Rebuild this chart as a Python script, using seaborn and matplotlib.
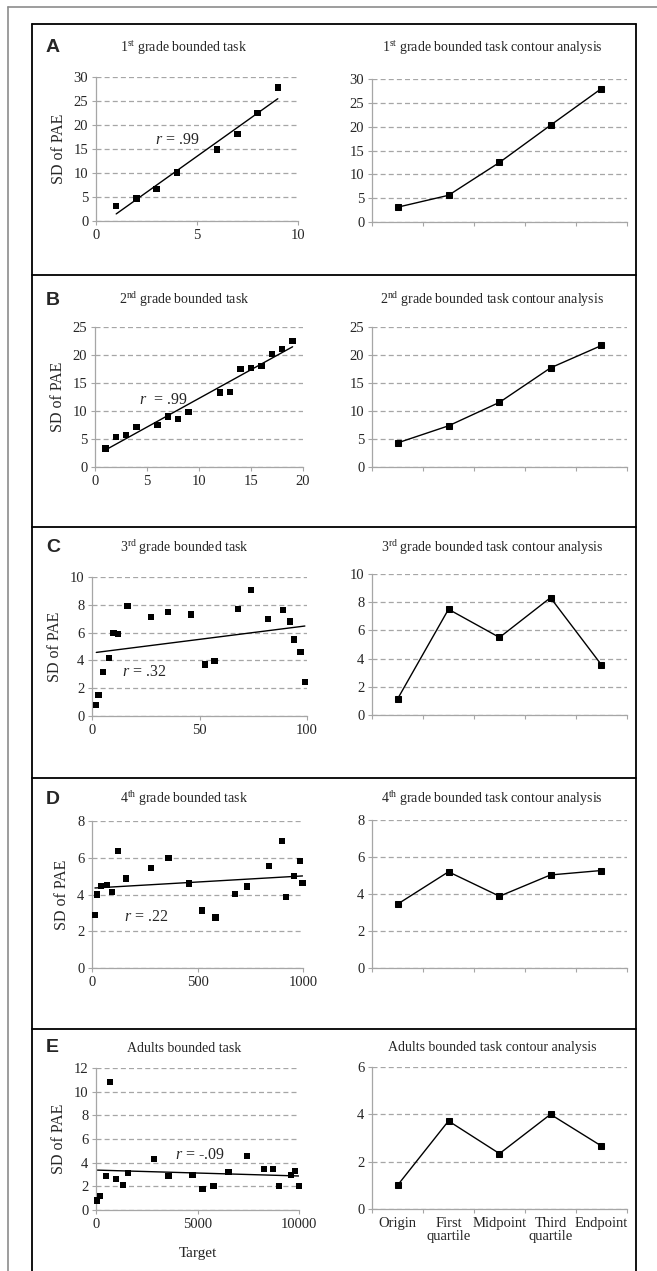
# Recreating the SD of PAE figure (bounded task + contour analysis panels)

import matplotlib
matplotlib.use("Agg")
import matplotlib.pyplot as plt
from matplotlib.lines import Line2D
import seaborn as sns
import numpy as np

# ---- data ----
grade1_target = [1, 2, 3, 4, 6, 7, 8, 9]
grade1_sd = [3.1, 4.7, 6.6, 10.1, 14.9, 18.1, 22.5, 27.8]
grade1_contour = [3.1, 5.6, 12.5, 20.3, 28.0]

grade2_target = [1, 2, 3, 4, 6, 7, 8, 9, 12, 13, 14, 15, 16, 17, 18, 19]
grade2_sd = [3.3, 5.3, 5.75, 7.2, 7.5, 9.0, 8.6, 9.8, 13.3, 13.45, 17.5, 17.7, 18.0, 20.2, 21.1, 22.45]
grade2_contour = [4.3, 7.35, 11.55, 17.7, 21.7]

grade3_target = [2, 3, 5, 8, 10, 12, 16.5, 27.5, 35.5, 46, 52.5, 57, 68, 74, 82, 89, 92, 94, 97, 99]
grade3_sd = [0.8, 1.5, 3.15, 4.2, 5.95, 5.9, 7.9, 7.15, 7.5, 7.3, 3.7, 3.95, 7.7, 9.05, 7.0, 7.6, 6.8, 5.5, 4.6, 2.45]
grade3_contour = [1.13, 7.5, 5.5, 8.32, 3.55]

grade4_target = [14, 25, 44, 70, 96, 125, 161, 278, 363, 460, 520, 585, 676, 736, 837, 899, 921, 957, 986, 998]
grade4_sd = [2.89, 4.0, 4.45, 4.5, 4.15, 6.35, 4.87, 5.44, 6.0, 4.6, 3.13, 2.75, 4.02, 4.44, 5.56, 6.93, 3.85, 5.02, 5.84, 4.62]
grade4_contour = [3.45, 5.2, 3.88, 5.03, 5.27]

adult_target = [66, 180, 508, 705, 967, 1328, 1590, 2852, 3574, 4754, 5246, 5787, 6525, 7426, 8295, 8721, 9016, 9623, 9787, 9984]
adult_sd = [0.8, 1.2, 2.9, 10.8, 2.63, 2.12, 3.16, 4.32, 2.88, 2.94, 1.78, 2.03, 3.22, 4.58, 3.47, 3.47, 2.0, 2.99, 3.28, 2.06]
adult_contour = [1.0, 3.72, 2.34, 4.0, 2.66]

contour_labels = ["Origin", "First\nquartile", "Midpoint", "Third\nquartile", "Endpoint"]

panel_letters = ["A", "B", "C", "D", "E"]
left_titles = ["1$^{\\mathrm{st}}$ grade bounded task", "2$^{\\mathrm{nd}}$ grade bounded task",
               "3$^{\\mathrm{rd}}$ grade bounded task", "4$^{\\mathrm{th}}$ grade bounded task",
               "Adults bounded task"]
right_titles = ["1$^{\\mathrm{st}}$ grade bounded task contour analysis",
                "2$^{\\mathrm{nd}}$ grade bounded task contour analysis",
                "3$^{\\mathrm{rd}}$ grade bounded task contour analysis",
                "4$^{\\mathrm{th}}$ grade bounded task contour analysis",
                "Adults bounded task contour analysis"]
r_labels = ["$r$ = .99", "$r$  = .99", "$r$ = .32", "$r$ = .22", "$r$ = -.09"]

sns.set_style("white")
plt.rcParams['font.family'] = ['Liberation Serif', 'DejaVu Sans']
plt.rcParams['mathtext.fontset'] = 'custom'
plt.rcParams['mathtext.rm'] = 'Liberation Serif'
plt.rcParams['mathtext.it'] = 'Liberation Serif:italic'

W, H = 657, 1271
GREY = "#a6a6a6"
TICK_FS = 10.5


def rect(left, top, right, bottom):
    """pixel box -> figure fraction box for add_axes"""
    return [left / W, 1 - bottom / H, (right - left) / W, (bottom - top) / H]


def style_axes(ax, ymax, ystep):
    """Excel-like look: grey left/bottom axis, dashed horizontal gridlines"""
    sns.despine(ax=ax)
    for side in ["left", "bottom"]:
        ax.spines[side].set_color(GREY)
        ax.spines[side].set_linewidth(0.9)
    ax.set_ylim(0, ymax)
    ax.set_yticks(np.arange(0, ymax + ystep / 2, ystep))
    ax.yaxis.grid(True, color=GREY, linestyle=(0, (4, 2.5)), linewidth=0.9)
    ax.set_axisbelow(True)
    ax.tick_params(axis="both", which="both", direction="out", length=3, width=0.8,
                   color=GREY, labelsize=TICK_FS, pad=2.5, left=True, bottom=True)


def plot_bounded(ax, target, sd, xmax, xstep, ymax, ystep, r_text, r_pos):
    """Scatter of SD of PAE against target with a linear fit"""
    sns.regplot(x=np.array(target, float), y=np.array(sd, float), ax=ax, scatter=False,
                ci=None, truncate=True, line_kws=dict(color="black", linewidth=1))
    sns.scatterplot(x=target, y=sd, ax=ax, marker="s", color="black", s=20,
                    edgecolor="none", zorder=3, clip_on=False)
    ax.set_xlim(0, xmax)
    ax.set_xticks(np.arange(0, xmax + xstep / 2, xstep))
    style_axes(ax, ymax, ystep)
    ax.set_ylabel("SD of PAE", fontsize=11.5, labelpad=5)
    ax.text(r_pos[0], r_pos[1], r_text, transform=ax.transAxes, fontsize=11.5,
            ha="left", va="center")


def plot_contour(ax, values, ymax, ystep, labels=None):
    """Contour analysis: five key points joined by a line"""
    pos = list(range(len(values)))
    sns.lineplot(x=pos, y=values, ax=ax, color="black", linewidth=1, marker="s",
                 markersize=4.5, markeredgecolor="black")
    ax.set_xlim(-0.5, len(values) - 0.5)
    style_axes(ax, ymax, ystep)
    ax.set_xticks(np.arange(-0.5, len(values), 1.0), minor=True)
    ax.set_xticks(pos)
    ax.tick_params(axis="x", which="major", length=0, pad=6)
    if labels is None:
        ax.set_xticklabels([])
    else:
        ax.set_xticklabels(labels, linespacing=0.95)
    ax.set_ylabel("")


fig = plt.figure(figsize=(W / 100, H / 100), dpi=100)

# pixel boxes (left, top, right, bottom) for every panel
left_boxes = [(96, 77, 298, 221), (95, 327, 303, 467), (92, 577, 307, 716),
              (92, 821, 303, 968), (96, 1068, 299, 1210)]
right_boxes = [(372, 79, 627, 222), (372, 327, 627, 467), (372, 574, 627, 715),
               (372, 820, 627, 968), (372, 1067, 627, 1209)]
title_y = [48, 300, 548, 799, 1048]
r_positions = [(0.29, 0.56), (0.21, 0.48), (0.14, 0.32), (0.15, 0.35), (0.39, 0.39)]

bounded = [
    (grade1_target, grade1_sd, 10, 5, 30, 5),
    (grade2_target, grade2_sd, 20, 5, 25, 5),
    (grade3_target, grade3_sd, 100, 50, 10, 2),
    (grade4_target, grade4_sd, 1000, 500, 8, 2),
    (adult_target, adult_sd, 10000, 5000, 12, 2),
]
contours = [(grade1_contour, 30, 5), (grade2_contour, 25, 5), (grade3_contour, 10, 2),
            (grade4_contour, 8, 2), (adult_contour, 6, 2)]

for i in range(5):
    ax_l = fig.add_axes(rect(*left_boxes[i]))
    t, s, xmax, xstep, ymax, ystep = bounded[i]
    plot_bounded(ax_l, t, s, xmax, xstep, ymax, ystep, r_labels[i], r_positions[i])

    ax_r = fig.add_axes(rect(*right_boxes[i]))
    vals, ymax, ystep = contours[i]
    plot_contour(ax_r, vals, ymax, ystep, contour_labels if i == 4 else None)

    fig.text(184 / W, 1 - title_y[i] / H, left_titles[i], fontsize=10, ha="center", va="center")
    fig.text(492 / W, 1 - title_y[i] / H, right_titles[i], fontsize=10, ha="center", va="center")
    fig.text(46 / W, 1 - title_y[i] / H, panel_letters[i], fontsize=14, fontweight="bold",
             family="Liberation Sans", ha="left", va="center")

    if i == 4:
        ax_l.set_xlabel("Target", fontsize=11, labelpad=12)

# outer grey frame and black panel frames
fig.add_artist(Line2D([8 / W, 1], [1 - 7 / H] * 2, color="#8c8c8c", linewidth=1.2))
fig.add_artist(Line2D([8 / W] * 2, [1 - 7 / H, 0], color="#8c8c8c", linewidth=1.2))
for y in [24, 275, 527, 778, 1029]:
    fig.add_artist(Line2D([32 / W, 636 / W], [1 - y / H] * 2, color="black", linewidth=1.3))
for x in [32, 636]:
    fig.add_artist(Line2D([x / W] * 2, [1 - 24 / H, 0], color="black", linewidth=1.3))

fig.savefig("out.png", dpi=100)
